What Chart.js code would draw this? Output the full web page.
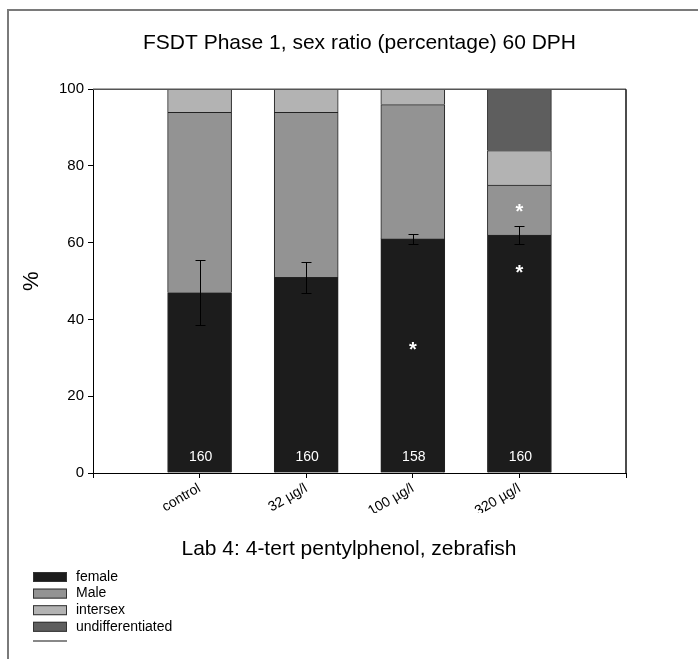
<!DOCTYPE html>
<html>
<head>
<meta charset="utf-8">
<title>FSDT Phase 1, sex ratio</title>
<script src="https://cdn.jsdelivr.net/npm/chart.js@4/dist/chart.umd.min.js"></script>
<style>
  html, body { margin: 0; padding: 0; background: #fff; }
  canvas { display: block; }
</style>
</head>
<body>
<canvas id="chart" width="698" height="659"></canvas>
<script>
// Treatment groups and percentages per sex class
const categories = ['control', '32 µg/l', '100 µg/l', '320 µg/l'];
const female = [47, 51, 61, 62];
const male = [47, 43, 35, 13];
const intersex = [6, 6, 4, 9];
const undifferentiated = [0, 0, 0, 16];
const femaleErr = [8.4, 4.0, 1.4, 2.3];
const fishCount = [160, 160, 158, 160];
const yTicks = [0, 20, 40, 60, 80, 100];
// significance asterisks: group index and % height
const sigGroup = [2, 3, 3];
const sigValue = [33, 53, 69];

const FONT = 'Arial, "Liberation Sans", sans-serif';
Chart.defaults.font.family = FONT;
Chart.defaults.color = '#000';

function toPoints(values) {
  return values.map((v, i) => ({ x: i + 1, y: v }));
}

const seriesStyle = { borderColor: '#222', borderWidth: 1, barThickness: 64 };

// frame, error bars, counts, asterisks, subtitle and legend
const extras = {
  id: 'extras',
  beforeDraw(chart) {
    const ctx = chart.ctx;
    ctx.save();
    ctx.fillStyle = '#fff';
    ctx.fillRect(0, 0, chart.width, chart.height);
    ctx.strokeStyle = '#7a7a7a';
    ctx.lineWidth = 2;
    ctx.beginPath();
    ctx.moveTo(8, chart.height);
    ctx.lineTo(8, 10);
    ctx.lineTo(chart.width, 10);
    ctx.stroke();
    ctx.restore();
  },
  afterDatasetsDraw(chart) {
    const ctx = chart.ctx;
    const xs = chart.scales.x;
    const ys = chart.scales.y;
    const area = chart.chartArea;
    ctx.save();

    // top and right edges of the plot box
    ctx.lineWidth = 1.5;
    ctx.strokeStyle = '#555';
    ctx.beginPath();
    ctx.moveTo(area.left, area.top);
    ctx.lineTo(area.right, area.top);
    ctx.stroke();
    ctx.strokeStyle = '#111';
    ctx.beginPath();
    ctx.moveTo(area.right, area.top);
    ctx.lineTo(area.right, area.bottom);
    ctx.stroke();

    // error bars on the female share
    ctx.strokeStyle = '#000';
    ctx.lineWidth = 1;
    female.forEach((v, i) => {
      const x = Math.round(xs.getPixelForValue(i + 1)) + 0.5;
      const yt = Math.round(ys.getPixelForValue(v + femaleErr[i])) + 0.5;
      const yb = Math.round(ys.getPixelForValue(v - femaleErr[i])) + 0.5;
      ctx.beginPath();
      ctx.moveTo(x, yt); ctx.lineTo(x, yb);
      ctx.moveTo(x - 5, yt); ctx.lineTo(x + 5, yt);
      ctx.moveTo(x - 5, yb); ctx.lineTo(x + 5, yb);
      ctx.stroke();
    });

    // number of fish per group
    ctx.fillStyle = '#fff';
    ctx.font = '14px ' + FONT;
    ctx.textAlign = 'center';
    ctx.textBaseline = 'middle';
    fishCount.forEach((n, i) => {
      ctx.fillText(String(n), xs.getPixelForValue(i + 1) + 1, ys.getPixelForValue(0) - 16);
    });

    // significance marks
    ctx.font = 'bold 20px ' + FONT;
    sigGroup.forEach((g, k) => {
      ctx.fillText('*', xs.getPixelForValue(g + 1), ys.getPixelForValue(sigValue[k]) + 4);
    });
    ctx.restore();
  },
  afterDraw(chart) {
    const ctx = chart.ctx;
    ctx.save();
    ctx.fillStyle = '#000';
    ctx.font = '21px ' + FONT;
    ctx.textAlign = 'center';
    ctx.textBaseline = 'middle';
    ctx.fillText('Lab 4: 4-tert pentylphenol, zebrafish', 349, 549);

    // legend, one row per series
    ctx.font = '14px ' + FONT;
    ctx.textAlign = 'left';
    chart.data.datasets.forEach((ds, i) => {
      const y = 572 + i * 16.6;
      ctx.fillStyle = ds.backgroundColor;
      ctx.fillRect(33, y, 34, 10);
      ctx.strokeStyle = '#333';
      ctx.lineWidth = 1;
      ctx.strokeRect(33.5, y + 0.5, 33, 9);
      ctx.fillStyle = '#000';
      ctx.fillText(ds.label, 76, y + 5);
    });
    ctx.strokeStyle = '#888';
    ctx.lineWidth = 2;
    ctx.beginPath();
    ctx.moveTo(33, 641);
    ctx.lineTo(67, 641);
    ctx.stroke();
    ctx.restore();
  }
};

new Chart(document.getElementById('chart'), {
  type: 'bar',
  data: {
    datasets: [
      { label: 'female', data: toPoints(female), backgroundColor: '#1c1c1c', ...seriesStyle },
      { label: 'Male', data: toPoints(male), backgroundColor: '#939393', ...seriesStyle },
      { label: 'intersex', data: toPoints(intersex), backgroundColor: '#b3b3b3', ...seriesStyle },
      { label: 'undifferentiated', data: toPoints(undifferentiated), backgroundColor: '#5e5e5e', ...seriesStyle }
    ]
  },
  options: {
    responsive: false,
    animation: false,
    layout: { padding: { left: 19, right: 72, top: 0, bottom: 146 } },
    plugins: {
      legend: { display: false },
      tooltip: { enabled: false },
      title: {
        display: true,
        text: 'FSDT Phase 1, sex ratio (percentage) 60 DPH',
        fullSize: false,
        color: '#000',
        font: { size: 21, weight: 'normal' },
        padding: { top: 31, bottom: 33 }
      }
    },
    scales: {
      x: {
        type: 'linear',
        stacked: true,
        offset: false,
        min: 0,
        max: categories.length + 1,
        afterFit(scale) {
          scale.height = 40;
          scale.paddingLeft = 0;
          scale.paddingRight = 0;
        },
        afterBuildTicks(scale) {
          scale.ticks = [0, ...categories.map((c, i) => i + 1), categories.length + 1].map(v => ({ value: v }));
        },
        ticks: {
          minRotation: 30,
          maxRotation: 30,
          padding: 2,
          font: { size: 14 },
          callback: (v) => categories[v - 1] || ''
        },
        grid: { offset: false, drawOnChartArea: false, tickLength: 5, color: '#000' },
        border: { color: '#000', width: 1 }
      },
      y: {
        stacked: true,
        min: 0,
        max: 100,
        afterFit(scale) { scale.width = 74; },
        afterBuildTicks(scale) {
          scale.ticks = yTicks.map(v => ({ value: v }));
        },
        ticks: { padding: 4, font: { size: 15 } },
        title: { display: true, text: '%', font: { size: 22 }, padding: { top: 0, bottom: 0 } },
        grid: { drawOnChartArea: false, tickLength: 5, color: '#000' },
        border: { color: '#000', width: 1 }
      }
    }
  },
  plugins: [extras]
});
</script>
</body>
</html>
